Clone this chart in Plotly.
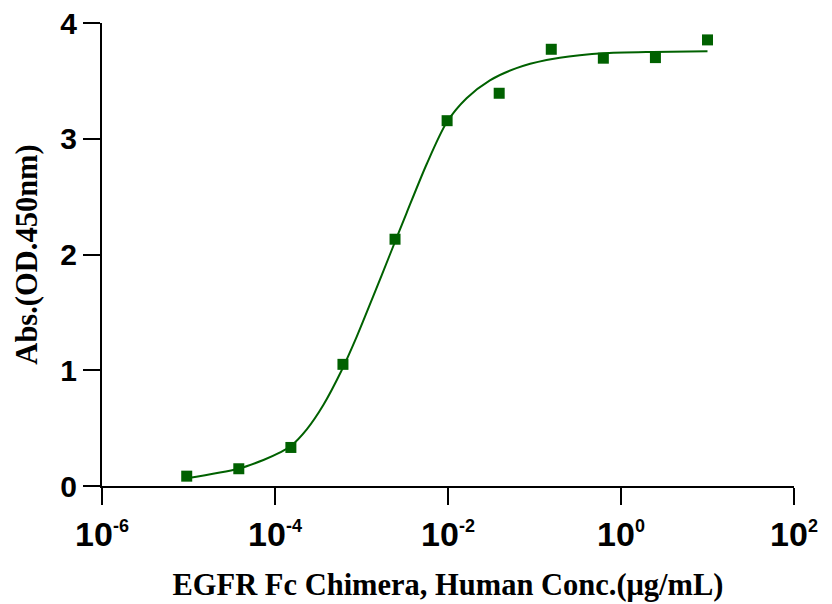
import plotly.graph_objects as go

# measured points (ug/mL, OD450)
conc = [9.5367e-6, 3.8147e-5, 1.5259e-4, 6.1035e-4, 2.4414e-3,
        9.7656e-3, 3.9063e-2, 0.15625, 0.625, 2.5, 10.0]
od = [0.085, 0.149, 0.333, 1.051, 2.132, 3.156, 3.393, 3.773, 3.696, 3.701, 3.854]

# fitted curve
fit_conc = [9.54e-6, 3.78e-5, 7.35e-5, 1.146e-4, 1.52e-4, 2.33e-4, 3.62e-4, 5.90e-4,
            8.81e-4, 1.368e-3, 2.133e-3, 3.327e-3, 5.66e-3, 9.64e-3, 0.0164, 0.0305,
            0.0619, 0.1377, 0.333, 0.619, 2.34, 10.0]
fit_od = [0.067, 0.149, 0.225, 0.290, 0.345, 0.490, 0.700, 1.000,
          1.290, 1.640, 2.000, 2.360, 2.780, 3.140, 3.350, 3.505,
          3.610, 3.680, 3.721, 3.739, 3.750, 3.756]

x_ticks = [1e-6, 1e-4, 1e-2, 1e0, 1e2]
x_labels = ["10<sup><span style='font-size:18px'>-6</span></sup>",
            "10<sup><span style='font-size:18px'>-4</span></sup>",
            "10<sup><span style='font-size:18px'>-2</span></sup>",
            "10<sup><span style='font-size:18px'>0</span></sup>",
            "10<sup><span style='font-size:18px'>2</span></sup>"]
y_ticks = [0, 1, 2, 3, 4]

green = "#006100"

fig = go.Figure()
fig.add_trace(go.Scatter(
    x=fit_conc, y=fit_od, mode="lines",
    line=dict(color=green, width=2, shape="spline", smoothing=0.8),
    hoverinfo="skip",
))
fig.add_trace(go.Scatter(
    x=conc, y=od, mode="markers",
    marker=dict(symbol="square", size=11, color=green),
))

tick_font = dict(family="Liberation Sans, Arial, sans-serif", color="black", weight="bold")
title_font = dict(family="Liberation Serif, Times New Roman, serif", size=30.5,
                  color="black", weight="bold")

# page body has an 8px margin, so the figure is a bit smaller than the window
fig.update_layout(
    width=824, height=596,
    margin=dict(l=94, r=38, t=15, b=118),
    paper_bgcolor="white", plot_bgcolor="white",
    showlegend=False,
    xaxis=dict(
        type="log", range=[-6, 2], automargin=False,
        tickvals=x_ticks, ticktext=x_labels,
        tickfont=dict(size=34, **tick_font), ticklabeloverflow="allow",
        showline=True, linecolor="black", linewidth=2,
        ticks="outside", ticklen=17, tickwidth=2, tickcolor="black",
        showgrid=False, zeroline=False,
        title=dict(text="EGFR Fc Chimera, Human Conc.(μg/mL)",
                   font=title_font, standoff=22),
    ),
    yaxis=dict(
        range=[0, 4], tickvals=y_ticks, automargin=False,
        tickfont=dict(size=30, **tick_font), ticklabeloverflow="allow",
        showline=True, linecolor="black", linewidth=2,
        ticks="outside", ticklen=17, tickwidth=2, tickcolor="black",
        showgrid=False, zeroline=False,
        title=dict(text="Abs.(OD.450nm)", font=title_font, standoff=14),
    ),
)

fig.write_html("out.html")
